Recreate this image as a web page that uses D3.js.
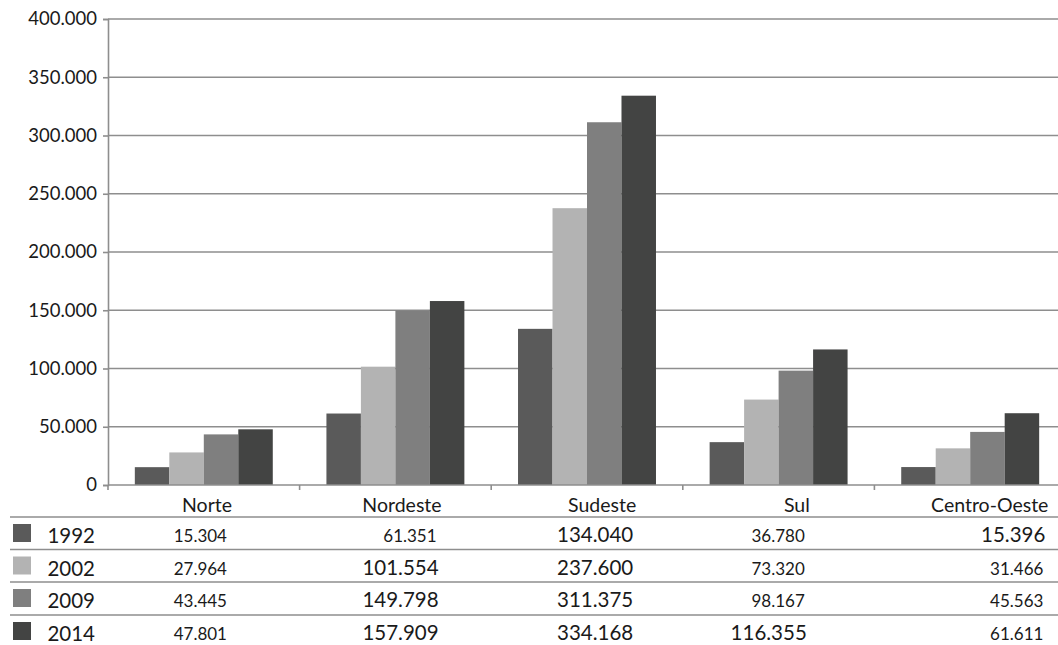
<!DOCTYPE html>
<html><head><meta charset="utf-8">
<script src="https://cdn.jsdelivr.net/npm/d3@7/dist/d3.min.js"></script>
<style>
html,body{margin:0;padding:0;background:#fff;}
svg{display:block;font-family:Lato,"Open Sans",sans-serif;}
</style></head>
<body><svg id="chart" width="1058" height="645"></svg>
<script>
// ---- data ----
const categories = ["Norte", "Nordeste", "Sudeste", "Sul", "Centro-Oeste"];
const years = ["1992", "2002", "2009", "2014"];
const v1992 = [15304, 61351, 134040, 36780, 15396];
const v2002 = [27964, 101554, 237600, 73320, 31466];
const v2009 = [43445, 149798, 311375, 98167, 45563];
const v2014 = [47801, 157909, 334168, 116355, 61611];
const yTicks = [0, 50000, 100000, 150000, 200000, 250000, 300000, 350000, 400000];

// ---- styling / layout ----
const seriesValues = [v1992, v2002, v2009, v2014];
const colors = ["#5a5a5a", "#b3b3b3", "#7f7f7f", "#434443"];
const gridColor = "#8e8e8e";
const plotLeft = 108, plotRight = 1066, plotTop = 19, plotBottom = 485;
// right-edge offset of table column text relative to band start
const colOffset = [121, 139, 142, 124, 171];
// cells (series-category) drawn with the larger font in the source table
const bigCells = new Set(["0-2","0-4","1-1","1-2","2-1","2-2","3-1","3-2","3-3"]);

const svg = d3.select("#chart");
const loc = d3.formatLocale({decimal: ",", thousands: ".", grouping: [3], currency: ["", ""]});
const fmt = loc.format(",");

const x = d3.scaleBand().domain(categories).range([plotLeft, plotRight]).paddingInner(0.28).paddingOuter(0.14);
const x1 = d3.scaleBand().domain(years).range([0, x.bandwidth()]);
const y = d3.scaleLinear().domain([0, 400000]).range([plotBottom, plotTop]);

// gridlines
svg.append("g").selectAll("line").data(yTicks.filter(d => d > 0)).join("line")
  .attr("x1", plotLeft).attr("x2", plotRight)
  .attr("y1", d => y(d)).attr("y2", d => y(d))
  .attr("stroke", gridColor).attr("stroke-width", 1.6);

// bars
const groups = svg.append("g").selectAll("g").data(categories).join("g")
  .attr("transform", d => `translate(${x(d)},0)`);
groups.selectAll("rect").data((c, ci) => years.map((yr, si) => ({yr, si, v: seriesValues[si][ci]})))
  .join("rect")
  .attr("x", d => x1(d.yr)).attr("width", x1.bandwidth())
  .attr("y", d => y(d.v)).attr("height", d => y(0) - y(d.v))
  .attr("fill", d => colors[d.si]);

// y axis
const yAxis = d3.axisLeft(y).tickValues(yTicks).tickFormat(fmt).tickSize(5).tickPadding(6);
const ya = svg.append("g").attr("transform", `translate(${plotLeft},0)`).call(yAxis);
ya.select(".domain").attr("stroke", gridColor).attr("stroke-width", 1.6);
ya.selectAll(".tick line").attr("stroke", gridColor).attr("stroke-width", 1.6);
ya.selectAll(".tick text").attr("font-size", 18.5).attr("fill", "#1a1a1a").attr("font-family", "Lato");

// x axis baseline with ticks at band boundaries
svg.append("line").attr("x1", plotLeft).attr("x2", plotRight).attr("y1", y(0)).attr("y2", y(0))
  .attr("stroke", gridColor).attr("stroke-width", 1.6);
const bounds = categories.map(c => x(c) - x.step() * 0.14).concat([plotRight]);
svg.append("g").selectAll("line").data(bounds).join("line")
  .attr("x1", d => d).attr("x2", d => d).attr("y1", y(0)).attr("y2", y(0) + 5)
  .attr("stroke", gridColor).attr("stroke-width", 1.6);

// ---- data table ----
const tableLeft = 10;
const headerBase = 512;
const rowLines = [517, 549.5, 582, 615];

svg.append("g").selectAll("text").data(categories).join("text")
  .attr("x", (c, i) => x(c) - x.step() * 0.14 + colOffset[i] + 3)
  .attr("y", headerBase).attr("text-anchor", "end")
  .attr("font-size", 19.5).attr("fill", "#1a1a1a").text(d => d);

svg.append("g").selectAll("line").data(rowLines).join("line")
  .attr("x1", tableLeft).attr("x2", 1058).attr("y1", d => d).attr("y2", d => d)
  .attr("stroke", gridColor).attr("stroke-width", 1.6);

years.forEach((yr, si) => {
  const rowTop = rowLines[si];
  svg.append("rect").attr("x", 13).attr("y", rowTop + 7).attr("width", 18).attr("height", 18)
    .attr("fill", colors[si]);
  svg.append("text").attr("x", 95).attr("y", rowTop + 26).attr("text-anchor", "end")
    .attr("font-size", 20.5).attr("fill", "#1a1a1a").text(yr);
  categories.forEach((c, ci) => {
    const big = bigCells.has(si + "-" + ci);
    svg.append("text")
      .attr("x", x(c) - x.step() * 0.14 + colOffset[ci] - (big ? 0 : 2))
      .attr("y", rowTop + 25).attr("text-anchor", "end")
      .attr("font-size", big ? 20.5 : 17).attr("fill", "#1a1a1a")
      .text(fmt(seriesValues[si][ci]));
  });
});
</script></body></html>
